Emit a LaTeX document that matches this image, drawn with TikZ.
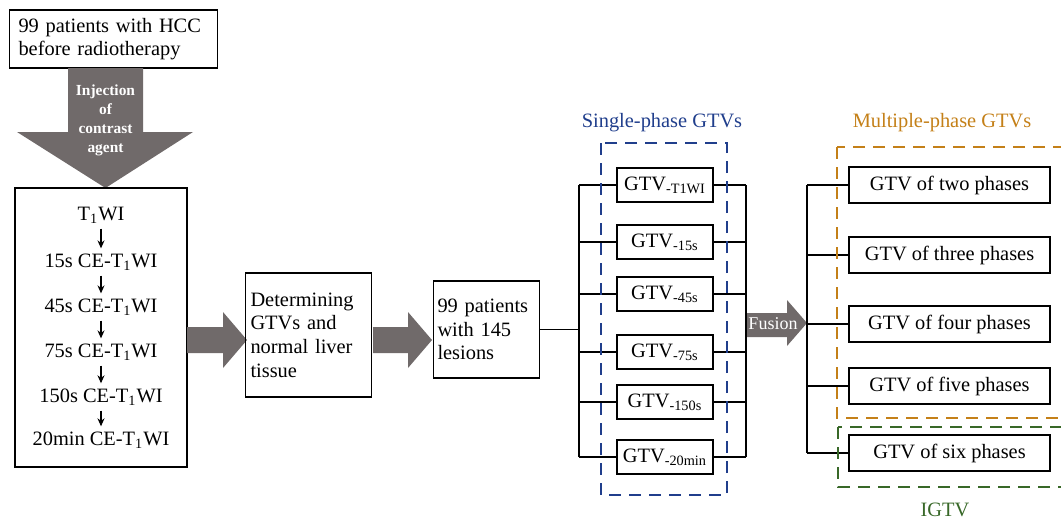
\documentclass[tikz,border=0pt]{standalone}
\usepackage{fontspec}
\setmainfont{Liberation Serif}
\usetikzlibrary{arrows.meta, positioning, calc}
\definecolor{ArrowGray}{RGB}{112, 106, 106}
\definecolor{PhaseBlue}{RGB}{32, 62, 140}
\definecolor{MultiOrange}{RGB}{196, 128, 24}
\definecolor{IgtvGreen}{RGB}{56, 104, 40}

\begin{document}
\begin{tikzpicture}[x=0.5pt, y=-0.5pt,
    box/.style={draw, line width=0.8pt, inner sep=2pt, font=\fontsize{10.2}{11.8}\selectfont},
    gtv/.style={box, minimum width=48pt, minimum height=17pt},
    multi/.style={box, minimum width=100.5pt, minimum height=18pt},
    seqitem/.style={inner sep=2.5pt, font=\fontsize{10.2}{12}\selectfont},
    fatarrow/.style={fill=ArrowGray},
    frame/.style={line width=1pt, dash pattern=on 6pt off 4pt},
    tree/.style={line width=0.8pt},
    lbl/.style={font=\fontsize{10.2}{12}\selectfont}]

    \clip (0,0) rectangle (1061,521);

    % Patients before radiotherapy
    \node[box, text width=95pt, inner xsep=4.5pt, minimum height=29pt, align=left] (hcc) at (113.5,39) {99 patients with HCC\\before radiotherapy};

    % Injection arrow
    \fill[fatarrow] (68,68) -- (143,68) -- (143,132) -- (193,132) -- (105.5,188) -- (17,132) -- (68,132) -- cycle;
    \node[text=white, font=\bfseries\fontsize{7.7}{9.5}\selectfont, align=center] (inj) at (105.5,120) {Injection\\of\\contrast\\agent};

    % Phase sequence
    \node[draw, line width=0.8pt, minimum width=86pt, minimum height=139.5pt] (seq) at (101,327.5) {};
    \node[seqitem] (s1) at (101,215) {T\textsubscript{1}WI};
    \node[seqitem] (s2) at (101,262) {15s CE-T\textsubscript{1}WI};
    \node[seqitem] (s3) at (101,307) {45s CE-T\textsubscript{1}WI};
    \node[seqitem] (s4) at (101,352) {75s CE-T\textsubscript{1}WI};
    \node[seqitem] (s5) at (101,397) {150s CE-T\textsubscript{1}WI};
    \node[seqitem] (s6) at (101,440) {20min CE-T\textsubscript{1}WI};
    \foreach \a/\b in {s1/s2, s2/s3, s3/s4, s4/s5, s5/s6}
        \draw[line width=0.6pt, -{Stealth[length=4pt, width=3.5pt]}] (\a) -- (\b);

    % Big arrows
    \fill[fatarrow] (187,327) -- (223,327) -- (223,312) -- (247,340) -- (223,368) -- (223,353) -- (187,353) -- cycle;
    \fill[fatarrow] (373,327) -- (408,327) -- (408,312) -- (432,340) -- (408,368) -- (408,353) -- (373,353) -- cycle;

    \node[box, text width=58pt, inner xsep=2.5pt, minimum height=62pt, align=left] (delin) at (308.5,335) {Determining\\GTVs and\\normal liver\\tissue\\[4pt]};
    \node[box, text width=49pt, inner xsep=2pt, minimum height=48.5pt, align=left] (lesion) at (486.5,329.5) {99 patients\\with 145\\lesions};

    % Single-phase GTVs
    \node[gtv] (g1) at (665,185) {GTV\textsubscript{-T1WI}};
    \node[gtv] (g2) at (665,242) {GTV\textsubscript{-15s}};
    \node[gtv] (g3) at (665,294) {GTV\textsubscript{-45s}};
    \node[gtv] (g4) at (665,352) {GTV\textsubscript{-75s}};
    \node[gtv] (g5) at (665,402) {GTV\textsubscript{-150s}};
    \node[gtv] (g6) at (665,457) {GTV\textsubscript{-20min}};

    \coordinate (splitA) at (579,330);
    \coordinate (joinA) at (746,330);
    \draw[tree] (lesion.east) -- (lesion.east -| splitA);
    \draw[tree] (splitA |- g1.west) -- (splitA |- g6.west);
    \draw[tree] (joinA |- g1.east) -- (joinA |- g6.east);
    \foreach \g in {g1, g2, g3, g4, g5, g6} {
        \draw[tree] (\g.west) -- (\g.west -| splitA);
        \draw[tree] (\g.east) -- (\g.east -| joinA);
    }

    % Fusion
    \fill[fatarrow] (747,313) -- (787,313) -- (787,300) -- (807,323) -- (787,346) -- (787,337) -- (747,337) -- cycle;
    \node[text=white, font=\fontsize{9}{10}\selectfont, inner sep=0pt] (fus) at (773,324) {Fusion};

    % Multiple-phase GTVs
    \node[multi] (m1) at (949.5,185) {GTV of two phases};
    \node[multi] (m2) at (949.5,255) {GTV of three phases};
    \node[multi] (m3) at (949.5,324) {GTV of four phases};
    \node[multi] (m4) at (949.5,386) {GTV of five phases};
    \node[multi] (m5) at (949.5,453) {GTV of six phases};

    \coordinate (splitB) at (807,323);
    \draw[tree] (splitB |- m1.west) -- (splitB |- m5.west);
    \foreach \m in {m1, m2, m3, m4, m5}
        \draw[tree] (\m.west) -- (\m.west -| splitB);

    % Frames
    \draw[frame, PhaseBlue] (601,143) rectangle (727,495);
    \draw[frame, MultiOrange] (837,147) rectangle (1080,418);
    \draw[frame, IgtvGreen] (838,427) rectangle (1080,487);
    \node[lbl, text=PhaseBlue] (singlelbl) at (662,123) {Single-phase GTVs};
    \node[lbl, text=MultiOrange] (multilbl) at (942,123) {Multiple-phase GTVs};
    \node[lbl, text=IgtvGreen] (igtvlbl) at (945,510) {IGTV};
\end{tikzpicture}
\end{document}
